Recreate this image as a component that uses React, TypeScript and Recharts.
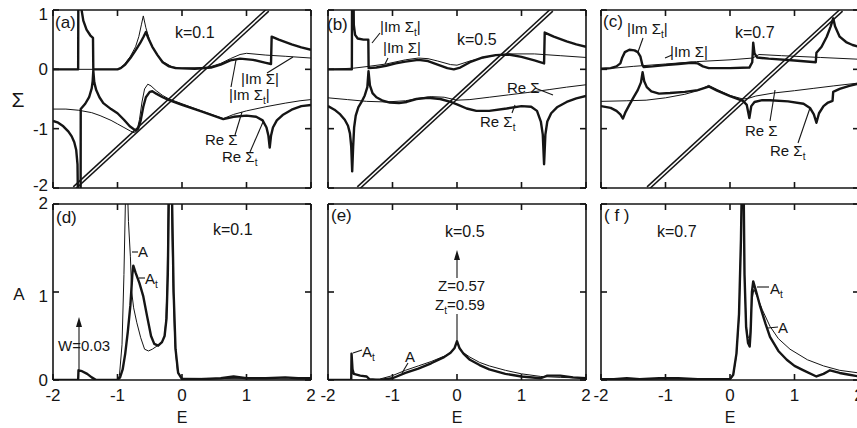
import React from "react";
import { LineChart, Line, XAxis, YAxis } from "recharts";

const INK = "#151515";
const FONT = "'Liberation Sans', Arial, sans-serif";

// axis ticks
const eTicks = [-2, -1, 0, 1, 2];
const sigmaTicks = [-2, -1, 0, 1];
const aTicks = [0, 1, 2];

// (a) k=0.1 self-energies, [E, value]
const imSigT_a = [[-2,0],[-1.61,0],[-1.607,1.3],[-1.58,1.3],[-1.56,1.02],[-1.53,0.82],[-1.48,0.67],[-1.42,0.57],[-1.38,0.53],[-1.375,0],[-1.0,0],[-0.95,0.02],[-0.88,0.08],[-0.8,0.19],[-0.72,0.32],[-0.65,0.44],[-0.6,0.54],[-0.56,0.63],[-0.52,0.52],[-0.46,0.38],[-0.38,0.24],[-0.3,0.12],[-0.2,0.05],[-0.1,0.02],[0.2,0.01],[0.45,0.03],[0.6,0.08],[0.75,0.15],[0.9,0.18],[1.1,0.16],[1.3,0.11],[1.38,0.09],[1.39,0.55],[1.5,0.5],[1.7,0.42],[1.85,0.37],[2,0.33]];
const imSig_a = [[-2,0],[-1.0,0],[-0.95,0.03],[-0.88,0.1],[-0.8,0.22],[-0.72,0.38],[-0.67,0.55],[-0.63,0.75],[-0.6,0.9],[-0.56,0.7],[-0.5,0.48],[-0.42,0.3],[-0.3,0.13],[-0.15,0.04],[0,0.02],[0.4,0.03],[0.6,0.1],[0.75,0.18],[0.9,0.25],[1.0,0.27],[1.3,0.24],[1.6,0.22],[2,0.19]];
const reSigT_a = [[-2,-0.87],[-1.92,-0.9],[-1.84,-0.96],[-1.76,-1.05],[-1.71,-1.13],[-1.67,-1.23],[-1.64,-1.36],[-1.62,-1.6],[-1.612,-2.3],[-1.572,-2.3],[-1.57,-0.67],[-1.5,-0.58],[-1.44,-0.47],[-1.4,-0.32],[-1.385,-0.2],[-1.375,-0.02],[-1.36,-0.22],[-1.33,-0.35],[-1.28,-0.47],[-1.22,-0.57],[-1.1,-0.67],[-1.0,-0.74],[-0.9,-0.85],[-0.81,-0.96],[-0.72,-1.03],[-0.68,-1.0],[-0.64,-0.86],[-0.6,-0.63],[-0.56,-0.47],[-0.5,-0.38],[-0.46,-0.37],[-0.4,-0.41],[-0.3,-0.47],[-0.2,-0.52],[0,-0.6],[0.3,-0.71],[0.64,-0.84],[0.8,-0.8],[1.0,-0.78],[1.15,-0.8],[1.25,-0.86],[1.31,-0.98],[1.34,-1.12],[1.36,-1.32],[1.38,-1.12],[1.41,-0.98],[1.47,-0.86],[1.56,-0.77],[1.7,-0.68],[1.85,-0.62],[2,-0.6]];
const reSig_a = [[-2,-0.67],[-1.8,-0.67],[-1.6,-0.69],[-1.4,-0.73],[-1.27,-0.78],[-1.1,-0.86],[-1.0,-0.92],[-0.9,-0.98],[-0.8,-1.04],[-0.74,-1.07],[-0.7,-1.04],[-0.66,-0.85],[-0.62,-0.55],[-0.58,-0.33],[-0.53,-0.25],[-0.48,-0.28],[-0.4,-0.36],[-0.3,-0.44],[-0.2,-0.5],[0,-0.58],[0.3,-0.7],[0.64,-0.83],[0.8,-0.76],[1.0,-0.7],[1.3,-0.63],[1.6,-0.57],[1.83,-0.53],[2,-0.51]];
const diag_a = [[-1.67,-2],[1.33,1]];

// (b) k=0.5
const imSigT_b = [[-2,0],[-1.63,0],[-1.627,1.3],[-1.605,1.3],[-1.6,0.75],[-1.58,0.58],[-1.54,0.52],[-1.45,0.5],[-1.375,0.5],[-1.37,0.02],[-1.25,0.03],[-1.1,0.06],[-0.95,0.1],[-0.8,0.13],[-0.6,0.16],[-0.45,0.14],[-0.3,0.08],[-0.15,0.02],[-0.05,0.0],[0.05,0.03],[0.2,0.12],[0.4,0.2],[0.6,0.24],[0.8,0.25],[1.0,0.21],[1.2,0.15],[1.35,0.1],[1.36,0.62],[1.5,0.55],[1.7,0.47],[1.85,0.42],[2,0.38]];
const imSig_b = [[-2,0],[-1.6,0.02],[-1.37,0.05],[-1.1,0.09],[-0.8,0.16],[-0.6,0.19],[-0.45,0.18],[-0.3,0.14],[-0.1,0.08],[0,0.07],[0.2,0.14],[0.5,0.22],[0.8,0.26],[1.2,0.26],[1.6,0.23],[2,0.2]];
const reSigT_b = [[-2,-0.62],[-1.9,-0.68],[-1.81,-0.76],[-1.74,-0.85],[-1.69,-0.95],[-1.66,-1.08],[-1.64,-1.3],[-1.625,-1.72],[-1.61,-1.3],[-1.595,-0.98],[-1.57,-0.78],[-1.53,-0.64],[-1.48,-0.55],[-1.43,-0.44],[-1.39,-0.3],[-1.372,-0.03],[-1.35,-0.27],[-1.31,-0.4],[-1.25,-0.47],[-1.15,-0.53],[-1.04,-0.56],[-0.9,-0.57],[-0.78,-0.55],[-0.63,-0.5],[-0.45,-0.48],[-0.26,-0.5],[-0.1,-0.55],[0,-0.59],[0.15,-0.66],[0.3,-0.7],[0.5,-0.7],[0.77,-0.66],[1.0,-0.62],[1.15,-0.63],[1.24,-0.7],[1.3,-0.88],[1.33,-1.1],[1.35,-1.6],[1.37,-1.1],[1.4,-0.88],[1.46,-0.74],[1.55,-0.64],[1.7,-0.55],[1.85,-0.49],[2,-0.45]];
const reSig_b = [[-2,-0.48],[-1.7,-0.51],[-1.4,-0.54],[-1.1,-0.55],[-0.8,-0.53],[-0.6,-0.49],[-0.4,-0.46],[-0.2,-0.47],[0,-0.52],[0.2,-0.51],[0.5,-0.47],[0.8,-0.43],[1.1,-0.39],[1.44,-0.34],[1.7,-0.3],[2,-0.26]];
const diag_b = [[-1.53,-2],[1.47,1]];

// (c) k=0.7
const imSigT_c = [[-2,0.01],[-1.85,0.02],[-1.76,0.05],[-1.7,0.1],[-1.67,0.2],[-1.63,0.29],[-1.56,0.33],[-1.48,0.32],[-1.43,0.29],[-1.39,0.22],[-1.36,0.08],[-1.34,0.04],[-1.2,0.05],[-1.0,0.07],[-0.8,0.09],[-0.6,0.11],[-0.5,0.1],[-0.42,0.05],[-0.33,0.02],[0,0.02],[0.3,0.03],[0.345,0.12],[0.36,0.45],[0.38,0.27],[0.42,0.2],[0.6,0.18],[1.0,0.15],[1.33,0.12],[1.34,0.28],[1.42,0.38],[1.5,0.55],[1.56,0.72],[1.6,0.86],[1.63,0.72],[1.7,0.55],[1.8,0.46],[1.9,0.41],[2,0.38]];
const imSig_c = [[-2,0],[-1.5,0.05],[-1.0,0.09],[-0.52,0.13],[0,0.16],[0.35,0.19],[0.45,0.25],[0.8,0.23],[1.4,0.2],[2,0.17]];
const reSigT_c = [[-2,-0.62],[-1.85,-0.65],[-1.76,-0.7],[-1.7,-0.76],[-1.66,-0.83],[-1.62,-0.72],[-1.56,-0.6],[-1.5,-0.48],[-1.43,-0.35],[-1.38,-0.22],[-1.355,-0.05],[-1.33,-0.2],[-1.29,-0.3],[-1.22,-0.37],[-1.1,-0.41],[-0.93,-0.4],[-0.7,-0.38],[-0.5,-0.35],[-0.33,-0.29],[-0.2,-0.36],[0,-0.45],[0.2,-0.53],[0.26,-0.6],[0.3,-0.82],[0.33,-0.62],[0.38,-0.55],[0.5,-0.52],[0.62,-0.52],[0.9,-0.54],[1.14,-0.58],[1.24,-0.65],[1.3,-0.76],[1.34,-0.9],[1.38,-0.74],[1.45,-0.62],[1.52,-0.56],[1.59,-0.53],[1.6,-0.38],[1.7,-0.33],[1.85,-0.28],[2,-0.24]];
const reSig_c = [[-2,-0.54],[-1.6,-0.53],[-1.3,-0.52],[-1.0,-0.48],[-0.7,-0.42],[-0.5,-0.36],[-0.33,-0.27],[-0.2,-0.34],[0,-0.44],[0.2,-0.5],[0.28,-0.49],[0.4,-0.45],[0.67,-0.4],[1.0,-0.36],[1.3,-0.32],[1.6,-0.28],[2,-0.23]];
const diag_c = [[-1.27,-2],[1.73,1]];

// (d)-(f) spectral functions
const aT_d = [[-2,0],[-1.61,0],[-1.605,0.11],[-1.55,0.1],[-1.47,0.07],[-1.4,0.03],[-1.33,0],[-1.0,0],[-0.96,0.03],[-0.92,0.12],[-0.88,0.3],[-0.84,0.55],[-0.8,0.85],[-0.77,1.2],[-0.755,1.3],[-0.72,1.22],[-0.66,1.1],[-0.6,0.95],[-0.54,0.72],[-0.48,0.5],[-0.43,0.41],[-0.37,0.39],[-0.31,0.43],[-0.27,0.5],[-0.24,0.7],[-0.22,1.2],[-0.2,2.3],[-0.16,2.3],[-0.13,1.0],[-0.1,0.35],[-0.06,0.08],[0,0.01],[0.3,0.01],[0.6,0.02],[0.8,0.04],[1.0,0.02],[1.3,0.02],[1.6,0.03],[1.8,0.02],[2,0.02]];
const a_d = [[-2,0],[-1.0,0],[-0.97,0.05],[-0.93,0.4],[-0.9,1.2],[-0.87,2.3],[-0.85,2.3],[-0.83,1.8],[-0.8,1.4],[-0.78,1.0],[-0.75,0.82],[-0.7,0.65],[-0.64,0.48],[-0.58,0.35],[-0.52,0.33],[-0.46,0.35],[-0.38,0.39],[-0.31,0.43],[-0.27,0.5],[-0.25,0.68],[-0.23,1.1],[-0.21,2.3],[-0.17,2.3],[-0.14,1.1],[-0.11,0.4],[-0.07,0.1],[0,0.02],[2,0.01]];
const aT_e = [[-2,0],[-1.64,0],[-1.635,0.3],[-1.62,0.12],[-1.6,0.07],[-1.5,0.05],[-1.4,0.04],[-1.36,0.01],[-1.2,0],[-1.0,0.02],[-0.8,0.08],[-0.6,0.13],[-0.4,0.19],[-0.2,0.26],[-0.1,0.31],[-0.04,0.36],[0,0.44],[0.04,0.36],[0.1,0.3],[0.2,0.23],[0.35,0.17],[0.5,0.12],[0.75,0.07],[1.0,0.04],[1.3,0.02],[1.4,0.05],[1.6,0.05],[1.8,0.03],[2,0.02]];
const a_e = [[-2,0],[-1.35,0],[-1.2,0.01],[-1.0,0.05],[-0.8,0.11],[-0.6,0.16],[-0.4,0.21],[-0.2,0.27],[-0.1,0.31],[-0.04,0.36],[0,0.44],[0.04,0.36],[0.1,0.31],[0.2,0.26],[0.35,0.2],[0.5,0.16],[0.75,0.11],[1.0,0.07],[1.3,0.04],[1.6,0.03],[2,0.02]];
const aT_f = [[-2,0.01],[-1.8,0.01],[-1.6,0.02],[-1.4,0.01],[-1.1,0.02],[-0.8,0.02],[-0.5,0.01],[0,0.01],[0.05,0.06],[0.1,0.3],[0.14,0.75],[0.17,1.6],[0.185,2.3],[0.21,2.3],[0.225,1.2],[0.25,0.6],[0.28,0.42],[0.305,0.38],[0.32,0.55],[0.34,1.0],[0.36,1.12],[0.4,1.02],[0.47,0.83],[0.55,0.64],[0.62,0.49],[0.75,0.33],[0.88,0.23],[1.0,0.16],[1.14,0.11],[1.34,0.04],[1.45,0.07],[1.55,0.11],[1.7,0.08],[1.85,0.06],[2,0.04]];
const a_f = [[-2,0],[0,0],[0.05,0.05],[0.1,0.28],[0.14,0.72],[0.17,1.6],[0.185,2.3],[0.21,2.3],[0.225,1.2],[0.25,0.62],[0.28,0.48],[0.31,0.5],[0.34,0.9],[0.37,1.03],[0.42,0.95],[0.5,0.8],[0.62,0.61],[0.75,0.47],[0.93,0.35],[1.2,0.23],[1.45,0.16],[1.7,0.11],[2,0.08]];

type Curve = { id: string; rows: number[][]; w: number; color?: string };

const toPts = (rows: number[][]) => rows.map(([E, v]) => ({ E, v }));

// E - eps_k drawn as an open double line
const withDiag = (id: string, rows: number[][]): Curve[] => [
  { id: id + "-o", rows, w: 4.6 },
  { id: id + "-i", rows, w: 1.6, color: "#fff" },
];

const PW = 258;
const blank = () => "";

// end labels on the y axes sit a little inside the frame, as in the print
const yNudge: Record<string, number> = { "1": 4, "-2": -3, "2": -1 };

function Panel(props: {
  x: number; y: number; h: number;
  yDomain: [number, number]; yTicks: number[];
  yLabels: boolean; xLabels: boolean; curves: Curve[];
}) {
  const { x, y, h, yDomain, yTicks, yLabels, xLabels, curves } = props;
  const leftW = yLabels ? 45 : 1;
  const bottomH = xLabels ? 36 : 1;
  const mt = 8, mr = 6, mb = xLabels ? 0 : 8;
  const width = leftW + PW + 1 + mr;
  const height = mt + 1 + h + bottomH + mb;
  const tickFont = { fill: INK, fontSize: 17, fontFamily: FONT };
  const stroke = { stroke: INK, strokeWidth: 1.6 };
  const common = { type: "number" as const, allowDataOverflow: true, interval: 0 as const, axisLine: stroke, tickLine: stroke, tickSize: -6, tick: tickFont };
  const yTick = (p: any) =>
    yLabels ? (
      <text x={p.x} y={p.y + (yNudge[String(p.payload.value)] ?? 0)} dy="0.35em" textAnchor="end"
        fontSize={17} fontFamily={FONT} fill={INK}>{p.payload.value}</text>
    ) : <g />;
  return (
    <div style={{ position: "absolute", left: x - leftW, top: y - 1 - mt }}>
      <LineChart width={width} height={height} margin={{ top: mt, right: mr, bottom: mb, left: 0 }}>
        <XAxis {...common} xAxisId="bottom" orientation="bottom" dataKey="E" domain={[-2, 2]} ticks={eTicks} height={bottomH} tickMargin={15} tickFormatter={xLabels ? undefined : blank} />
        <XAxis {...common} xAxisId="top" orientation="top" dataKey="E" domain={[-2, 2]} ticks={eTicks} height={1} tickFormatter={blank} />
        <YAxis {...common} yAxisId="left" orientation="left" domain={yDomain} ticks={yTicks} width={leftW} tickMargin={11} tick={yTick} />
        <YAxis {...common} yAxisId="right" orientation="right" domain={yDomain} ticks={yTicks} width={1} tickFormatter={blank} />
        {curves.map((c) => (
          <Line key={c.id} xAxisId="bottom" yAxisId="left" data={toPts(c.rows)} dataKey="v" type="linear"
            stroke={c.color ?? INK} strokeWidth={c.w} strokeLinejoin="round" dot={false} activeDot={false}
            isAnimationActive={false} />
        ))}
      </LineChart>
    </div>
  );
}

const T = ({ x, y, s = 15, a = "start", children }: any) => (
  <text x={x} y={y} fontSize={s} textAnchor={a} fontFamily={FONT} fill={INK}>{children}</text>
);
const Sub = ({ c }: { c: string }) => <tspan fontSize={10} dy={4}>{c}</tspan>;
const L = ({ p }: { p: number[] }) => <line x1={p[0]} y1={p[1]} x2={p[2]} y2={p[3]} stroke={INK} strokeWidth={1.1} />;

function Overlay() {
  return (
    <svg width={857} height={428} style={{ position: "absolute", left: 0, top: 0, pointerEvents: "none" }}>
      {/* axis titles */}
      <T x={18} y={107} s={21} a="middle">Σ</T>
      <T x={19} y={300} s={17} a="middle">A</T>
      <T x={182} y={423} s={16} a="middle">E</T>
      <T x={457} y={423} s={16} a="middle">E</T>
      <T x={730} y={423} s={16} a="middle">E</T>

      {/* panel tags and k values */}
      <T x={55} y={28} s={17}>(a)</T>
      <T x={327} y={30} s={17}>(b)</T>
      <T x={603} y={27} s={17}>(c)</T>
      <T x={56} y={223} s={17}>(d)</T>
      <T x={331} y={221} s={17}>(e)</T>
      <T x={604} y={221} s={17}>( f )</T>
      <T x={175} y={38} s={16}>k=0.1</T>
      <T x={457} y={45} s={16}>k=0.5</T>
      <T x={735} y={38} s={16}>k=0.7</T>
      <T x={213} y={235} s={16}>k=0.1</T>
      <T x={445} y={237} s={16}>k=0.5</T>
      <T x={657} y={237} s={16}>k=0.7</T>

      {/* (a) */}
      <T x={241} y={84}>|Im Σ|</T>
      <T x={229} y={100}>|Im Σ<Sub c="t" /><tspan dy={-4}>|</tspan></T>
      <T x={205} y={145}>Re Σ</T>
      <T x={222} y={162}>Re Σ<Sub c="t" /></T>
      <L p={[267, 73, 293, 57]} />
      <L p={[231, 87, 236, 60]} />
      <L p={[235, 135, 242, 112]} />
      <L p={[250, 152, 263, 122]} />

      {/* (b) */}
      <T x={380} y={32}>|Im Σ<Sub c="t" /><tspan dy={-4}>|</tspan></T>
      <T x={383} y={53}>|Im Σ|</T>
      <T x={507} y={93}>Re Σ</T>
      <T x={480} y={127}>Re Σ<Sub c="t" /></T>
      <L p={[380, 33, 372, 43]} />
      <L p={[388, 58, 385, 64]} />
      <L p={[535, 88, 553, 95]} />
      <L p={[515, 105, 512, 113]} />

      {/* (c) */}
      <T x={627} y={34}>|Im Σ<Sub c="t" /><tspan dy={-4}>|</tspan></T>
      <T x={670} y={57}>|Im Σ|</T>
      <T x={745} y={136}>Re Σ</T>
      <T x={770} y={156}>Re Σ<Sub c="t" /></T>
      <L p={[643, 38, 638, 52]} />
      <L p={[672, 55, 665, 58]} />
      <L p={[770, 121, 775, 90]} />
      <L p={[798, 143, 810, 108]} />

      {/* (d) */}
      <T x={138} y={257}>A</T>
      <T x={145} y={284}>A<Sub c="t" /></T>
      <L p={[132, 252, 138, 252]} />
      <L p={[139, 278, 145, 278]} />
      <T x={58} y={351}>W=0.03</T>
      <L p={[79, 370, 79, 325]} />
      <polygon points="79,317 76,327 82,327" fill={INK} />

      {/* (e) */}
      <T x={438} y={291}>Z=0.57</T>
      <T x={435} y={310}>Z<Sub c="t" /><tspan dy={-4}>=0.59</tspan></T>
      <L p={[457, 343, 457, 314]} />
      <L p={[457, 278, 457, 258]} />
      <polygon points="457,250 454,260 460,260" fill={INK} />
      <T x={362} y={357}>A<Sub c="t" /></T>
      <T x={405} y={362}>A</T>
      <L p={[353, 353, 362, 350]} />
      <L p={[408, 363, 402, 373]} />

      {/* (f) */}
      <T x={770} y={294}>A<Sub c="t" /></T>
      <T x={778} y={333}>A</T>
      <L p={[757, 287, 769, 287]} />
      <L p={[768, 328, 778, 327]} />
    </svg>
  );
}

export default function App() {
  const topH = 178;
  const botH = 176;
  return (
    <div style={{ position: "absolute", left: 0, top: 0, width: 857, height: 428, overflow: "hidden", background: "#fff" }}>
      <style>{`.recharts-surface{overflow:visible}`}</style>
      <Panel x={53} y={10} h={topH} yDomain={[-2, 1]} yTicks={sigmaTicks} yLabels xLabels={false}
        curves={[...withDiag("diag", diag_a),
          { id: "reS", rows: reSig_a, w: 1 }, { id: "imS", rows: imSig_a, w: 1 },
          { id: "reT", rows: reSigT_a, w: 2.4 }, { id: "imT", rows: imSigT_a, w: 2.4 }]} />
      <Panel x={328} y={10} h={topH} yDomain={[-2, 1]} yTicks={sigmaTicks} yLabels={false} xLabels={false}
        curves={[...withDiag("diag", diag_b),
          { id: "reS", rows: reSig_b, w: 1 }, { id: "imS", rows: imSig_b, w: 1 },
          { id: "reT", rows: reSigT_b, w: 2.4 }, { id: "imT", rows: imSigT_b, w: 2.4 }]} />
      <Panel x={601} y={10} h={topH} yDomain={[-2, 1]} yTicks={sigmaTicks} yLabels={false} xLabels={false}
        curves={[...withDiag("diag", diag_c),
          { id: "reS", rows: reSig_c, w: 1 }, { id: "imS", rows: imSig_c, w: 1 },
          { id: "reT", rows: reSigT_c, w: 2.4 }, { id: "imT", rows: imSigT_c, w: 2.4 }]} />
      <Panel x={53} y={204} h={botH} yDomain={[0, 2]} yTicks={aTicks} yLabels xLabels
        curves={[{ id: "A", rows: a_d, w: 1 }, { id: "At", rows: aT_d, w: 2.4 }]} />
      <Panel x={328} y={204} h={botH} yDomain={[0, 2]} yTicks={aTicks} yLabels={false} xLabels
        curves={[{ id: "A", rows: a_e, w: 1 }, { id: "At", rows: aT_e, w: 2.4 }]} />
      <Panel x={601} y={204} h={botH} yDomain={[0, 2]} yTicks={aTicks} yLabels={false} xLabels
        curves={[{ id: "A", rows: a_f, w: 1 }, { id: "At", rows: aT_f, w: 2.4 }]} />
      <Overlay />
    </div>
  );
}
